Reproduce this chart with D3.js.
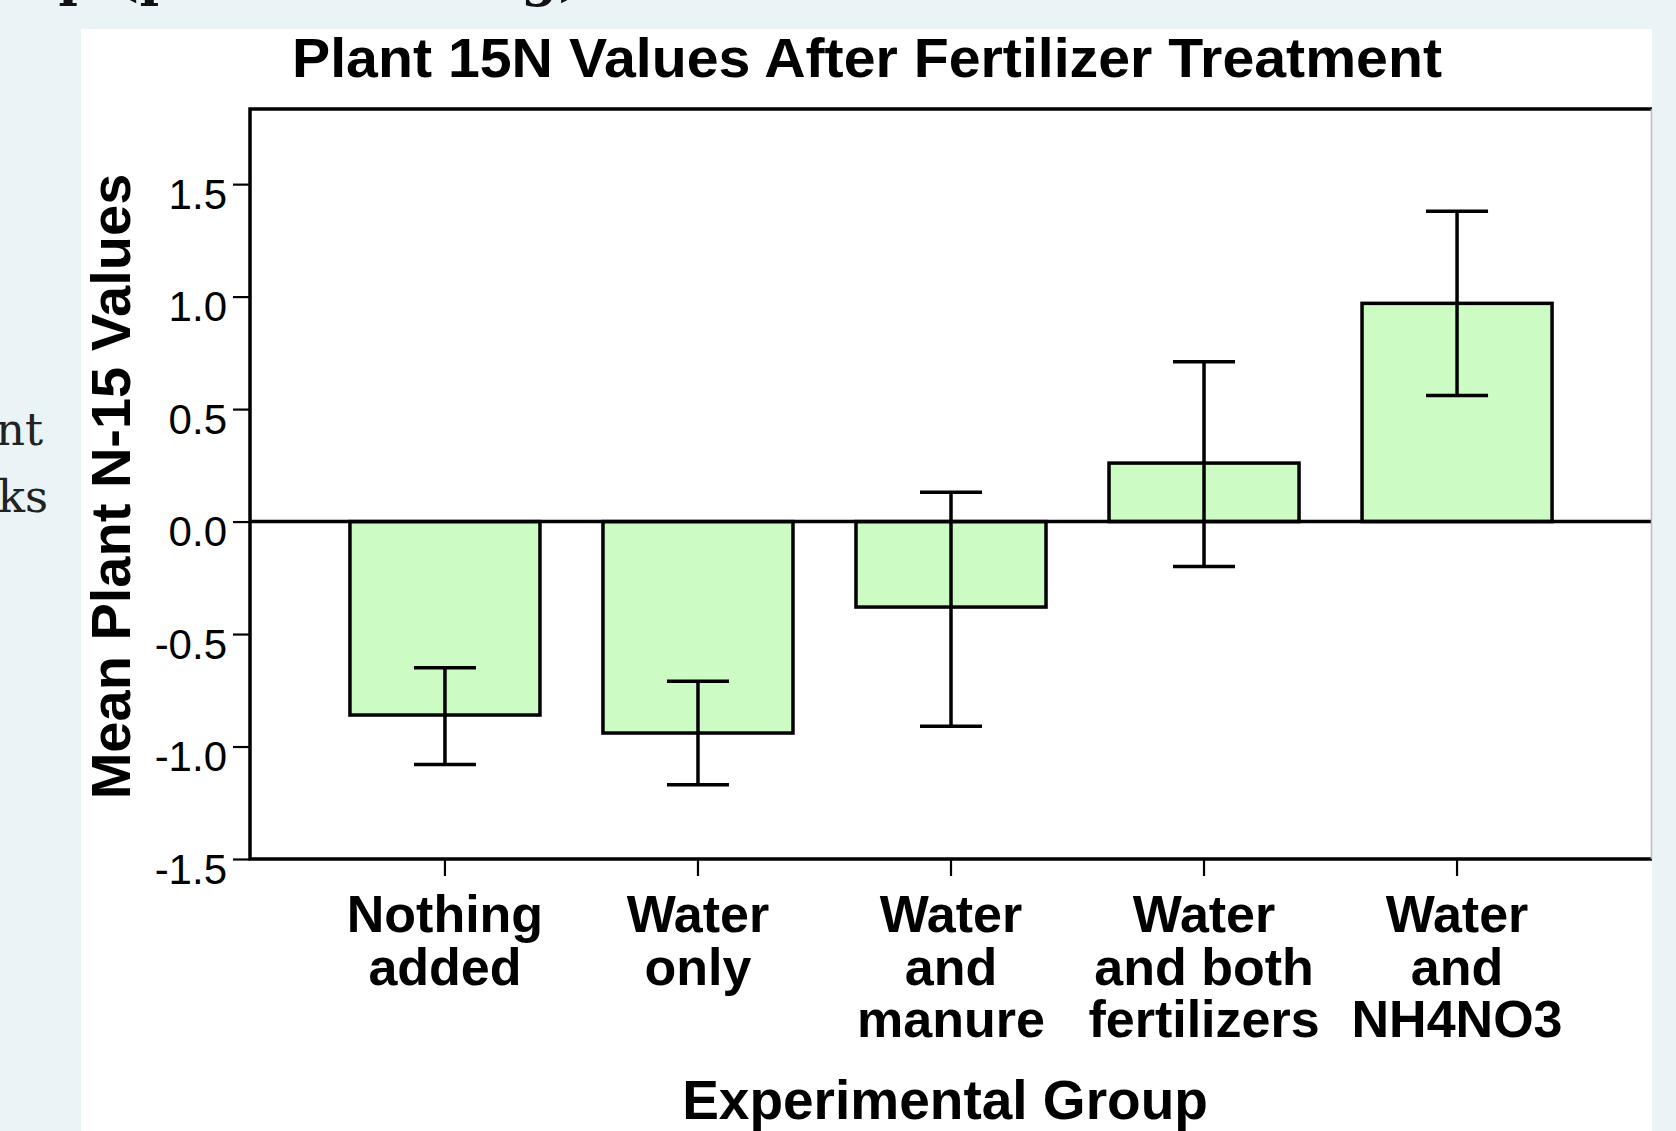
<!DOCTYPE html>
<html>
<head>
<meta charset="utf-8">
<script src="https://cdn.jsdelivr.net/npm/d3@7"></script>
<style>
  body { margin: 0; background: #eaf4f6; }
  svg { display: block; }
  text { font-family: "Liberation Sans", Arial, Helvetica, sans-serif; fill: #000; }
</style>
</head>
<body>
<div id="root"></div>
<script>
// groups on the x axis, each label split into its printed lines
const categories = ['Nothing added', 'Water only', 'Water and manure', 'Water and both fertilizers', 'Water and NH4NO3'];
const categoryLines = [
  ['Nothing', 'added'],
  ['Water', 'only'],
  ['Water', 'and', 'manure'],
  ['Water', 'and both', 'fertilizers'],
  ['Water', 'and', 'NH4NO3']
];
// mean plant N-15 values and error bar ends
const means = [-0.86, -0.94, -0.38, 0.26, 0.97];
const errLow = [-1.08, -1.17, -0.91, -0.20, 0.56];
const errHigh = [-0.65, -0.71, 0.13, 0.71, 1.38];
const yTicks = [-1.5, -1.0, -0.5, 0.0, 0.5, 1.0, 1.5];

const W = 1676, H = 1131;
const plot = { left: 250, right: 1652, top: 109, bottom: 859 };

const svg = d3.select('#root').append('svg')
  .attr('width', W)
  .attr('height', H);

// white panel the chart sits on
svg.append('rect')
  .attr('x', 81).attr('y', 29)
  .attr('width', 1652 - 81).attr('height', H - 29)
  .attr('fill', '#fff');

// bits of the surrounding page text
const serif = '"DejaVu Serif", Georgia, serif';
svg.append('text')
  .attr('x', 43).attr('y', 445)
  .attr('text-anchor', 'end')
  .style('font-family', serif)
  .style('font-size', '45px')
  .style('fill', '#222')
  .text('nt');
svg.append('text')
  .attr('x', 48).attr('y', 512)
  .attr('text-anchor', 'end')
  .style('font-family', serif)
  .style('font-size', '45px')
  .style('fill', '#222')
  .text('ks');
svg.append('text')
  .attr('x', 20).attr('y', -5)
  .attr('textLength', 563)
  .attr('lengthAdjust', 'spacing')
  .style('font-family', serif)
  .style('font-size', '52px')
  .style('font-weight', 'bold')
  .style('fill', '#111')
  .text('up (paired testing)');

const x = d3.scaleBand()
  .domain(categories)
  .range([plot.left, plot.right])
  .paddingInner(0.249)
  .paddingOuter(0.395);

const y = d3.scaleLinear()
  .domain([-1.5, 1.834])
  .range([plot.bottom, plot.top]);

const chart = svg.append('g');
const lw = 3.5;

// bars
chart.selectAll('rect.bar')
  .data(means)
  .join('rect')
  .attr('class', 'bar')
  .attr('x', (d, i) => x(categories[i]))
  .attr('width', x.bandwidth())
  .attr('y', d => Math.min(y(d), y(0)))
  .attr('height', d => Math.abs(y(d) - y(0)))
  .attr('fill', '#ccfcc4')
  .attr('stroke', '#000')
  .attr('stroke-width', lw);

// zero line
chart.append('line')
  .attr('x1', plot.left).attr('x2', plot.right)
  .attr('y1', y(0)).attr('y2', y(0))
  .attr('stroke', '#000')
  .attr('stroke-width', lw);

// error bars
const capHalf = 31;
const err = chart.selectAll('g.err')
  .data(categories)
  .join('g')
  .attr('class', 'err')
  .attr('transform', d => `translate(${x(d) + x.bandwidth() / 2},0)`);
err.append('line')
  .attr('y1', (d, i) => y(errLow[i]))
  .attr('y2', (d, i) => y(errHigh[i]))
  .attr('stroke', '#000').attr('stroke-width', lw);
err.append('line')
  .attr('x1', -capHalf).attr('x2', capHalf)
  .attr('y1', (d, i) => y(errHigh[i])).attr('y2', (d, i) => y(errHigh[i]))
  .attr('stroke', '#000').attr('stroke-width', lw);
err.append('line')
  .attr('x1', -capHalf).attr('x2', capHalf)
  .attr('y1', (d, i) => y(errLow[i])).attr('y2', (d, i) => y(errLow[i]))
  .attr('stroke', '#000').attr('stroke-width', lw);

// frame: left, top, bottom in black, right edge faint
chart.append('path')
  .attr('d', `M${plot.right},${plot.top}H${plot.left}V${plot.bottom}H${plot.right}`)
  .attr('fill', 'none')
  .attr('stroke', '#000')
  .attr('stroke-width', lw);
chart.append('line')
  .attr('x1', plot.right - 0.5).attr('x2', plot.right - 0.5)
  .attr('y1', plot.top).attr('y2', plot.bottom)
  .attr('stroke', '#bbb')
  .attr('stroke-width', 1.5);

// y axis
const yAxis = svg.append('g')
  .attr('transform', `translate(${plot.left},0)`)
  .call(d3.axisLeft(y).tickValues(yTicks).tickFormat(d => d.toFixed(1)).tickSize(17).tickPadding(6));
yAxis.select('.domain').remove();
yAxis.selectAll('.tick line').attr('stroke', '#000').attr('stroke-width', 2.2);
yAxis.selectAll('.tick text')
  .attr('dy', null)
  .attr('y', 24)
  .style('font-family', '"Liberation Sans", Arial, sans-serif')
  .style('font-size', '42px');

// x axis
const xAxis = svg.append('g')
  .attr('transform', `translate(0,${plot.bottom})`)
  .call(d3.axisBottom(x).tickSize(17).tickFormat(''));
xAxis.select('.domain').remove();
xAxis.selectAll('.tick line').attr('stroke', '#000').attr('stroke-width', 2.2);

const labels = svg.append('g')
  .selectAll('text')
  .data(categories)
  .join('text')
  .attr('x', d => x(d) + x.bandwidth() / 2)
  .attr('y', 932)
  .attr('text-anchor', 'middle')
  .style('font-size', '52px')
  .style('font-weight', 'bold');
labels.selectAll('tspan')
  .data((d, i) => categoryLines[i])
  .join('tspan')
  .attr('x', function () { return this.parentNode.getAttribute('x'); })
  .attr('dy', (d, i) => i === 0 ? 0 : 52.5)
  .text(d => d);

// titles
svg.append('text')
  .attr('x', 867).attr('y', 77)
  .attr('text-anchor', 'middle')
  .attr('textLength', 1150)
  .attr('lengthAdjust', 'spacingAndGlyphs')
  .style('font-size', '56px')
  .style('font-weight', 'bold')
  .text('Plant 15N Values After Fertilizer Treatment');

svg.append('text')
  .attr('transform', 'translate(130,486.5) rotate(-90)')
  .attr('text-anchor', 'middle')
  .style('font-size', '56px')
  .style('font-weight', 'bold')
  .text('Mean Plant N-15 Values');

svg.append('text')
  .attr('x', 945).attr('y', 1119)
  .attr('text-anchor', 'middle')
  .style('font-size', '55px')
  .style('font-weight', 'bold')
  .text('Experimental Group');
</script>
</body>
</html>
